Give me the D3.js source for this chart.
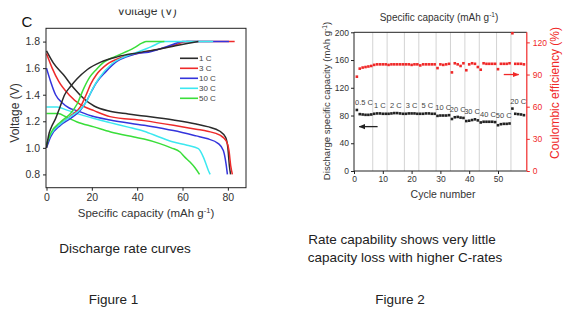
<!DOCTYPE html>
<html lang="en">
<head>
<meta charset="UTF-8">
<title>Discharge rate curves / rate capability</title>
<script src="https://cdn.jsdelivr.net/npm/d3@7"></script>
<style>
body{margin:0;background:#fff;}
text{font-family:"Liberation Sans",Arial,sans-serif;}
</style>
</head>
<body>
<script>
// ---- figure 1 : voltage vs specific capacity ----
var rateNames = ["1 C","3 C","10 C","30 C","50 C"];
var rateColors = ["#2b2b2b","#ee2a2a","#3434dc","#3ce8f0","#3ade3a"];
// discharge branches [capacity, voltage]
var dis1C  = [[0,1.73],[3,1.64],[7.5,1.55],[12,1.45],[16.5,1.37],[21,1.315],[28,1.275],[36,1.255],[43,1.24],[56,1.21],[66,1.18],[71,1.16],[76.5,1.125],[79,1.08],[80,1.0],[80.7,0.86],[81.2,0.8]];
var dis3C  = [[0,1.71],[2.5,1.6],[5.4,1.5],[9.9,1.4],[15,1.325],[21,1.28],[28,1.235],[43,1.205],[56,1.17],[66,1.14],[71,1.125],[76.5,1.095],[79.2,1.055],[80.5,0.98],[81.3,0.86],[82,0.8]];
var dis10C = [[0,1.6],[1.8,1.5],[4,1.4],[6.9,1.34],[10,1.3],[13.5,1.28],[20,1.24],[28,1.21],[43,1.17],[56,1.13],[66,1.09],[70.7,1.07],[75.8,1.032],[78,0.98],[79.2,0.88],[79.8,0.8]];
var dis30C = [[0,1.307],[4.7,1.307],[9,1.284],[15,1.25],[21,1.221],[28,1.19],[35.6,1.158],[43,1.125],[50,1.08],[56,1.044],[62,1.02],[67,0.994],[69.2,0.93],[71.4,0.83],[72.2,0.8]];
var dis50C = [[0,1.258],[5,1.258],[9,1.23],[13.5,1.195],[20.9,1.158],[28.3,1.12],[38.6,1.082],[43,1.066],[50,1.032],[55,1.0],[58.9,0.969],[61,0.93],[63.3,0.893],[65.5,0.85],[67.5,0.8]];
// charge branches
var chg1C  = [[0,1.0],[1,1.1],[2,1.15],[4,1.22],[6,1.31],[8,1.4],[10.5,1.46],[13.5,1.52],[17.9,1.588],[23.9,1.645],[31.2,1.685],[40,1.715],[50,1.745],[56,1.765],[62,1.785],[67,1.8]];
var chg3C  = [[0,1.02],[1.8,1.1],[6.2,1.18],[10.6,1.24],[15,1.31],[17.5,1.4],[19.5,1.48],[22,1.55],[26.8,1.63],[33,1.68],[40,1.71],[50,1.745],[56,1.77],[62,1.8],[83,1.8]];
var chg10C = [[0,1.0],[1.8,1.083],[6.2,1.17],[10.6,1.221],[15,1.284],[17.9,1.36],[20,1.43],[22,1.49],[26,1.57],[31.2,1.652],[36,1.69],[40,1.71],[45,1.72],[50,1.745],[56,1.78],[60,1.8],[80.5,1.8]];
var chg30C = [[0,1.03],[1.8,1.1],[6.2,1.18],[10.6,1.235],[15,1.29],[18,1.36],[20.5,1.45],[23,1.52],[29,1.635],[35,1.69],[40,1.72],[46,1.76],[52,1.8],[73.5,1.8]];
var chg50C = [[0,1.02],[1.8,1.108],[6.2,1.195],[10.6,1.259],[13.5,1.33],[16.5,1.45],[19,1.53],[22,1.59],[25.3,1.645],[30,1.685],[38.6,1.752],[42.3,1.79],[44,1.8],[52,1.8]];
var capTicks = [0,20,40,60,80];
var voltTicks = [0.8,1.0,1.2,1.4,1.6,1.8];

// ---- figure 2 : rate capability ----
var cycleNo = [1,2,3,4,5,6,7,8,9,10,11,12,13,14,15,16,17,18,19,20,21,22,23,24,25,26,27,28,29,30,
  31,32,33,34,35,36,37,38,39,40,41,42,43,44,45,46,47,48,49,50,51,52,53,54,55,56,57,58,59];
var dischargeCap = [88,82,81.5,81,81,81.5, 82.5,83,83,82.5,82.5, 82.5,83,83.5,83.5,83,82.5,
  82.5,83,83,83,82.5, 82.5,82.5,83,83,82.5,82.5, 79.5,80,80,80,80.5, 75,77.5,78,77,76.5,
  72,72.5,73.5,74.5,73, 70,71,71,71,71,70.5, 66,67.5,68,68,68.5, 90,82.5,82,81.5,80.5];
var coulombEff = [88,95.5,96.5,97,97.5,98, 99,99.5,99.5,99.5,99.5, 99,99.5,99.5,99.5,99.5,99.5,
  99.5,99.5,99,99.5,99.5, 98.5,99.5,99.5,99.5,99.5,99.5, 96,99.5,99,99.5,100, 92,100.5,99.5,98,100.5,
  94,99.5,100.5,100,97, 94.5,100.5,100,100,100,100, 95,100,100,100,100.5, 128.5,100,100,100,99.5];
var stepBounds = [6.5,11.5,17.5,22.5,28.5,33.5,38.5,43.5,49.5,54.5];
var stepNames = ["0.5 C","1 C","2 C","3 C","5 C","10 C","20 C","30 C","40 C","50 C","20 C"];
var cycleTicks = [0,10,20,30,40,50];
var capTicks2 = [0,40,80,120,160,200];
var ceTicks = [0,30,60,90,120];

var width = 569, height = 327;
var svg = d3.select("body").append("svg").attr("width",width).attr("height",height);

// ================= left chart =================
var x1 = d3.scaleLinear().domain([0,88]).range([46.5,246]);
var y1 = d3.scaleLinear().domain([0.7,1.9]).range([187.7,28.3]);
var g1 = svg.append("g");

// clipped heading at the very top (cut off in the source)
svg.append("clipPath").attr("id","topclip").append("rect")
  .attr("x",0).attr("y",9.5).attr("width",260).attr("height",20);
g1.append("text").attr("clip-path","url(#topclip)")
  .attr("x",147).attr("y",14.7).attr("text-anchor","middle")
  .style("font-size","12px").style("fill","#333").text("Voltage (V)");
g1.append("text").attr("x",27).attr("y",27.3).attr("text-anchor","middle")
  .style("font-size","15px").style("fill","#111").text("C");

var line1 = d3.line().x(function(d){return x1(d[0]);}).y(function(d){return y1(d[1]);})
  .curve(d3.curveMonotoneX);
// draw order chosen so the 1.8 V plateau shows the same colours as the source
var curves = [
  {d:dis1C,c:0},{d:dis3C,c:1},{d:dis10C,c:2},{d:dis30C,c:3},{d:dis50C,c:4},
  {d:chg3C,c:1},{d:chg10C,c:2},{d:chg30C,c:3},{d:chg50C,c:4},{d:chg1C,c:0}
];
g1.selectAll(".vc").data(curves).enter().append("path").attr("class","vc")
  .attr("d",function(d){return line1(d.d);})
  .attr("fill","none").attr("stroke",function(d){return rateColors[d.c];})
  .attr("stroke-width",1.5);

g1.append("rect").attr("x",x1(0)-0.5).attr("y",y1(1.9)).attr("width",x1(88)-x1(0)+0.5)
  .attr("height",y1(0.7)-y1(1.9)).attr("fill","none").attr("stroke","#222").attr("stroke-width",1);

var ax1 = g1.append("g").attr("transform","translate(0,"+y1(0.7)+")")
  .call(d3.axisBottom(x1).tickValues(capTicks).tickSize(3).tickPadding(3));
var ay1 = g1.append("g").attr("transform","translate("+(x1(0)-0.5)+",0)")
  .call(d3.axisLeft(y1).tickValues(voltTicks).tickFormat(d3.format(".1f")).tickSize(3).tickPadding(3));
[ax1,ay1].forEach(function(a){
  a.select(".domain").remove();
  a.selectAll("line").attr("stroke","#222");
  a.selectAll("text").style("font-size","10.5px").style("fill","#333").style("font-family","Liberation Sans, Arial, sans-serif");
});

var xl1 = g1.append("text").attr("x",146).attr("y",217).attr("text-anchor","middle")
  .style("font-size","11.5px").style("fill","#333");
xl1.append("tspan").text("Specific capacity (mAh g");
xl1.append("tspan").attr("dy",-4).style("font-size","7.5px").text("-1");
xl1.append("tspan").attr("dy",4).text(")");
g1.append("text").attr("transform","translate(19,113) rotate(-90)").attr("text-anchor","middle")
  .style("font-size","12px").style("fill","#333").text("Voltage (V)");

// legend
var leg = g1.selectAll(".leg").data(rateNames).enter().append("g").attr("class","leg")
  .attr("transform",function(d,i){return "translate(180,"+(58.3+10*i)+")";});
leg.append("line").attr("x1",0).attr("x2",18).attr("stroke",function(d,i){return rateColors[i];})
  .attr("stroke-width",1.6);
leg.append("text").attr("x",19).attr("dy","0.35em").style("font-size","8px").style("fill","#444")
  .text(function(d){return d;});

// ================= right chart =================
var x2 = d3.scaleLinear().domain([0,60]).range([354,526.8]);
var yL = d3.scaleLinear().domain([0,200]).range([171,32.3]);
var yR = d3.scaleLinear().domain([0,129.4]).range([171,32.3]);
var red = "#f02828";
var g2 = svg.append("g");

g2.selectAll(".div").data(stepBounds).enter().append("line").attr("class","div")
  .attr("x1",function(d){return x2(d);}).attr("x2",function(d){return x2(d);})
  .attr("y1",yL(200)).attr("y2",yL(0)).attr("stroke","#c8c8c8").attr("stroke-width",0.8);

var ax2 = g2.append("g").attr("transform","translate(0,"+yL(0)+")")
  .call(d3.axisBottom(x2).tickValues(cycleTicks).tickSize(3).tickPadding(2));
var ayL = g2.append("g").attr("transform","translate("+x2(0)+",0)")
  .call(d3.axisLeft(yL).tickValues(capTicks2).tickSize(3).tickPadding(2));
var ayR = g2.append("g").attr("transform","translate("+x2(60)+",0)")
  .call(d3.axisRight(yR).tickValues(ceTicks).tickSize(3).tickPadding(3));
[ax2,ayL,ayR].forEach(function(a){
  a.select(".domain").remove();
  a.selectAll("text").style("font-size","8.5px").style("font-family","Liberation Sans, Arial, sans-serif");
});
ax2.selectAll("line").attr("stroke","#222"); ax2.selectAll("text").style("fill","#333");
ayL.selectAll("line").attr("stroke","#222"); ayL.selectAll("text").style("fill","#333");
ayR.selectAll("line").attr("stroke",red); ayR.selectAll("text").style("fill",red);

// frame
g2.append("path").attr("d","M"+x2(60)+","+yL(200)+"H"+x2(0)+"V"+yL(0)+"H"+x2(60))
  .attr("fill","none").attr("stroke","#222").attr("stroke-width",1);
g2.append("line").attr("x1",x2(60)).attr("x2",x2(60)).attr("y1",yL(200)).attr("y2",yL(0))
  .attr("stroke",red).attr("stroke-width",1.2);

// points
var sq = 2.6;
g2.selectAll(".cap").data(cycleNo).enter().append("rect").attr("class","cap")
  .attr("x",function(d){return x2(d)-sq/2;}).attr("y",function(d,i){return yL(dischargeCap[i])-sq/2;})
  .attr("width",sq).attr("height",sq).attr("fill","#222");
g2.selectAll(".ce").data(cycleNo).enter().append("rect").attr("class","ce")
  .attr("x",function(d){return x2(d)-sq/2;}).attr("y",function(d,i){return yR(coulombEff[i])-sq/2;})
  .attr("width",sq).attr("height",sq).attr("fill",red);

// rate labels, centred over each step
var stepEdges = [0.5].concat(stepBounds).concat([59.5]);
g2.selectAll(".step").data(stepNames).enter().append("text").attr("class","step")
  .attr("x",function(d,i){return x2((stepEdges[i]+stepEdges[i+1])/2);})
  .attr("y",function(d,i){
    var vals = dischargeCap.filter(function(v,k){return cycleNo[k]>stepEdges[i]&&cycleNo[k]<stepEdges[i+1];});
    return yL(d3.max(vals))-5;})
  .attr("text-anchor","middle").style("font-size","7.5px").style("fill","#444").text(function(d){return d;});

// arrows
var defs = svg.append("defs");
[["ahk","#222"],["ahr",red]].forEach(function(m){
  defs.append("marker").attr("id",m[0]).attr("viewBox","0 0 10 10").attr("refX",9).attr("refY",5)
    .attr("markerWidth",5).attr("markerHeight",5).attr("orient","auto")
    .append("path").attr("d","M0,1L10,5L0,9Z").attr("fill",m[1]);
});
g2.append("line").attr("x1",x2(8.2)).attr("x2",x2(1.8)).attr("y1",yL(64)).attr("y2",yL(64))
  .attr("stroke","#222").attr("stroke-width",1.3).attr("marker-end","url(#ahk)");
g2.append("line").attr("x1",x2(52)).attr("x2",x2(57.2)).attr("y1",yR(90)).attr("y2",yR(90))
  .attr("stroke",red).attr("stroke-width",1.3).attr("marker-end","url(#ahr)");

// axis titles
var t2 = g2.append("text").attr("x",439).attr("y",21).attr("text-anchor","middle")
  .style("font-size","10px").style("fill","#333");
t2.append("tspan").text("Specific capacity (mAh g");
t2.append("tspan").attr("dy",-4).style("font-size","6.5px").text("-1");
t2.append("tspan").attr("dy",4).text(")");
g2.append("text").attr("x",443).attr("y",197.5).attr("text-anchor","middle")
  .style("font-size","10.5px").style("fill","#333").text("Cycle number");
var yl2 = g2.append("text").attr("transform","translate(330,101) rotate(-90)").attr("text-anchor","middle")
  .style("font-size","9.6px").style("fill","#333");
yl2.append("tspan").text("Discharge specific capacity (mAh g");
yl2.append("tspan").attr("dy",-3.5).style("font-size","6.5px").text("-1");
yl2.append("tspan").attr("dy",3.5).text(")");
g2.append("text").attr("transform","translate(559,93) rotate(-90)").attr("text-anchor","middle")
  .style("font-size","12px").style("fill",red).text("Coulombic efficiency (%)");

// ================= captions =================
var captions = [
  {t:"Discharge rate curves",x:125,y:253},
  {t:"Figure 1",x:113.5,y:304},
  {t:"Rate capability shows very little",x:402,y:244},
  {t:"capacity loss with higher C-rates",x:405,y:261.5},
  {t:"Figure 2",x:400,y:304}
];
svg.selectAll(".cap-t").data(captions).enter().append("text").attr("class","cap-t")
  .attr("x",function(d){return d.x;}).attr("y",function(d){return d.y;})
  .attr("text-anchor","middle").style("font-size","13.5px").style("fill","#222")
  .text(function(d){return d.t;});
</script>
</body>
</html>
